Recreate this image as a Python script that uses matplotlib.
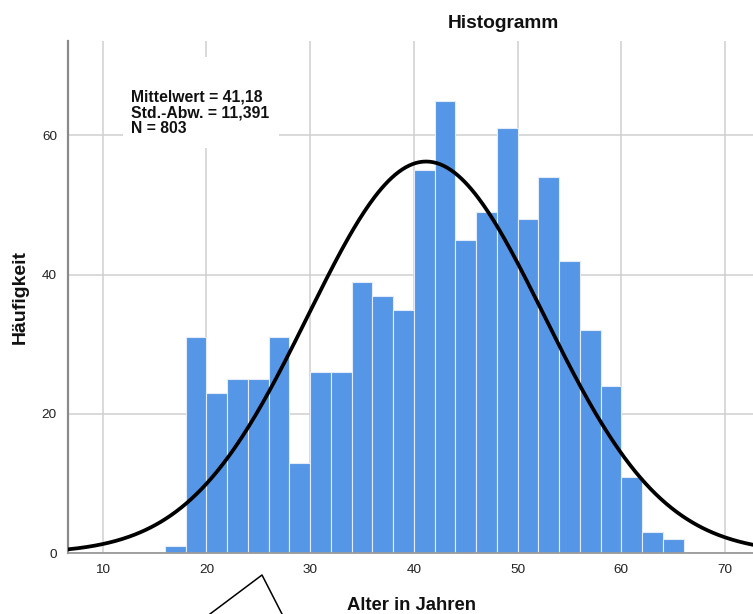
import numpy as np
import matplotlib
matplotlib.use("Agg")
import matplotlib.pyplot as plt
from matplotlib.patches import Rectangle
from matplotlib.lines import Line2D

# Altersverteilung, Klassenbreite 2 Jahre
bin_edges = list(range(16, 68, 2))
counts = [1, 31, 23, 25, 25, 31, 13, 26, 26, 39, 37, 35, 55,
          65, 45, 49, 61, 48, 54, 42, 32, 24, 11, 3, 2]

mean_val = 41.18
std_val = 11.391
n_total = 803
bin_width = 2

x_ticks = [10, 20, 30, 40, 50, 60, 70]
y_ticks = [0, 20, 40, 60]

plt.rcParams['font.family'] = ['Liberation Sans', 'DejaVu Sans']

fig = plt.figure(figsize=(7.53, 6.14), dpi=100)
ax = fig.add_axes([68 / 753, 60.7 / 614, 1 - 68 / 753, 512.3 / 614])

ax.set_axisbelow(True)
ax.bar(bin_edges[:-1], counts, width=bin_width, align='edge',
       color='#5596e6', edgecolor='#e3ecf8', linewidth=0.8, zorder=2)

# Normalverteilungskurve
xs = np.linspace(6.6, 73, 400)
ys = n_total * bin_width / (std_val * np.sqrt(2 * np.pi)) * np.exp(-0.5 * ((xs - mean_val) / std_val) ** 2)
ax.plot(xs, ys, color='black', linewidth=2.7, zorder=3)

ax.set_xlim(6.65, 72.7)
ax.set_ylim(0, 73.55)
ax.set_xticks(x_ticks)
ax.set_yticks(y_ticks)
ax.tick_params(length=0, labelsize=9.7, colors='#222222', pad=8)
ax.grid(True, color='#cfcfcf', linewidth=1.1)

for s in ['top', 'right']:
    ax.spines[s].set_visible(False)
ax.spines['left'].set_color('#8a8a8a')
ax.spines['left'].set_linewidth(1.6)
ax.spines['bottom'].set_color('#9a9a9a')
ax.spines['bottom'].set_linewidth(1.3)

# weisser Kasten fuer die Statistik
box = Rectangle((123 / 753, 1 - 148 / 614), 156 / 753, 91 / 614,
                transform=fig.transFigure, facecolor='white', edgecolor='none', zorder=1)
fig.patches.append(box)
fig.text(131 / 753, 1 - 89 / 614,
         "Mittelwert = 41,18\nStd.-Abw. = 11,391\nN = 803",
         fontsize=11.3, fontweight='bold', va='top', ha='left', linespacing=1.1,
         color='#111111')

fig.text(503 / 753, 1 - 23 / 614, "Histogramm", fontsize=13.8, fontweight='bold',
         ha='center', va='center', color='#111111')
fig.text(412 / 753, 1 - 605 / 614, "Alter in Jahren", fontsize=13.3, fontweight='bold',
         ha='center', va='center', color='#111111')
fig.text(20 / 753, 1 - 297 / 614, "Häufigkeit", fontsize=14, fontweight='bold',
         ha='center', va='center', rotation=90, color='#111111')

# abgeschnittene Form unten
fig.lines.append(Line2D([210 / 753, 262 / 753, 282 / 753],
                        [1 - 614 / 614, 1 - 575 / 614, 1 - 614 / 614],
                        transform=fig.transFigure, color='black', linewidth=1.1))

fig.savefig("out.png", dpi=100)
